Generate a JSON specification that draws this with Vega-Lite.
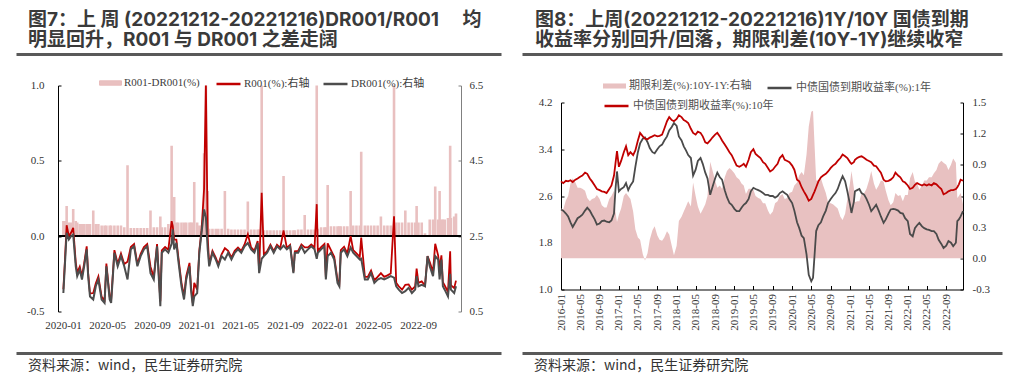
{
"$schema":"https://vega.github.io/schema/vega-lite/v6.json",
"padding":{"left":26,"top":11,"right":0,"bottom":0},
"autosize":{"type":"pad"},
"config":{"view":{"stroke":null},"font":"Liberation Serif"},
"columns":2,
"spacing":{"row":30.5,"column":100},
"bounds":"flush",
"resolve":{"scale":{"fill":"independent","stroke":"independent","color":"independent"}},
"concat":[
{"width":403,"height":1,"data":{"values":[{"k":0.5}]},"mark":{"type":"point","opacity":0,"size":0},
 "encoding":{"x":{"field":"k","type":"quantitative","scale":{"domain":[0,1],"range":[-42,443],"nice":false},"axis":{"orient":"top","domain":true,"domainColor":"#595959","domainWidth":3,"ticks":false,"labels":false,"grid":false,"title":null}}},
 "title":{"text":["图7：上 周 (20221212-20221216)DR001/R001　 均","明显回升，R001 与 DR001 之差走阔"],"anchor":"start","frame":"group","dx":-30,"font":"Inter, Noto Sans CJK SC","fontSize":19,"fontWeight":"bold","color":"#3a3a3a","lineHeight":20,"offset":4}},
{"width":402,"height":1,"data":{"values":[{"k":0.5}]},"mark":{"type":"point","opacity":0,"size":0},
 "encoding":{"x":{"field":"k","type":"quantitative","scale":{"domain":[0,1],"range":[-39,441],"nice":false},"axis":{"orient":"top","domain":true,"domainColor":"#595959","domainWidth":3,"ticks":false,"labels":false,"grid":false,"title":null}}},
 "title":{"text":["图8：上周(20221212-20221216)1Y/10Y  国债到期","收益率分别回升/回落，期限利差(10Y-1Y)继续收窄"],"anchor":"start","frame":"group","dx":-26,"font":"Inter, Noto Sans CJK SC","fontSize":19,"fontWeight":"bold","color":"#3a3a3a","lineHeight":20,"offset":4}},
{"width":403,"height":226,
 "data":{"values":[
{"d":"2020-01-02","dr":0.99,"s":0.10,"r":1.09},{"d":"2020-01-06","dr":1.70,"s":0.10,"r":1.80},{"d":"2020-01-11","dr":2.59,"s":0.20,"r":2.79},{"d":"2020-01-17","dr":2.41,"s":0.09,"r":2.50},{"d":"2020-01-23","dr":2.50,"s":0.09,"r":2.59},{"d":"2020-01-29","dr":2.54,"s":0.18,"r":2.72},{"d":"2020-02-05","dr":1.70,"s":0.10,"r":1.80},{"d":"2020-02-09","dr":1.44,"s":0.09,"r":1.53},{"d":"2020-02-16","dr":1.61,"s":0.08,"r":1.69},{"d":"2020-02-22","dr":1.35,"s":0.08,"r":1.43},{"d":"2020-02-28","dr":1.70,"s":0.08,"r":1.78},{"d":"2020-03-06","dr":2.15,"s":0.08,"r":2.23},{"d":"2020-03-10","dr":1.44,"s":0.08,"r":1.52},{"d":"2020-03-15","dr":0.90,"s":0.08,"r":0.98},{"d":"2020-03-24","dr":0.82,"s":0.17,"r":0.99},{"d":"2020-03-31","dr":1.17,"s":0.08,"r":1.25},{"d":"2020-04-07","dr":1.35,"s":0.08,"r":1.43},{"d":"2020-04-16","dr":0.82,"s":0.07,"r":0.89},{"d":"2020-04-24","dr":0.73,"s":0.07,"r":0.80},{"d":"2020-04-29","dr":1.70,"s":0.07,"r":1.77},{"d":"2020-05-08","dr":0.82,"s":0.07,"r":0.89},{"d":"2020-05-12","dr":0.73,"s":0.07,"r":0.80},{"d":"2020-05-21","dr":2.06,"s":0.07,"r":2.13},{"d":"2020-05-30","dr":1.70,"s":0.07,"r":1.77},{"d":"2020-06-08","dr":1.97,"s":0.07,"r":2.04},{"d":"2020-06-17","dr":1.70,"s":0.06,"r":1.76},{"d":"2020-06-26","dr":1.35,"s":0.47,"r":1.82},{"d":"2020-07-05","dr":2.15,"s":0.055,"r":2.21},{"d":"2020-07-14","dr":2.23,"s":0.055,"r":2.29},{"d":"2020-07-23","dr":1.70,"s":0.055,"r":1.76},{"d":"2020-08-01","dr":1.97,"s":0.055,"r":2.03},{"d":"2020-08-10","dr":2.15,"s":0.055,"r":2.21},{"d":"2020-08-19","dr":2.23,"s":0.055,"r":2.29},{"d":"2020-08-28","dr":1.52,"s":0.17,"r":1.69},{"d":"2020-09-06","dr":1.35,"s":0.06,"r":1.41},{"d":"2020-09-15","dr":2.23,"s":0.06,"r":2.29},{"d":"2020-09-24","dr":0.64,"s":0.13,"r":0.77},{"d":"2020-09-28","dr":2.06,"s":0.06,"r":2.12},{"d":"2020-10-07","dr":2.15,"s":0.06,"r":2.21},{"d":"2020-10-16","dr":2.06,"s":0.08,"r":2.14},{"d":"2020-10-25","dr":2.30,"s":0.60,"r":2.90},{"d":"2020-10-28","dr":2.68,"s":0.09,"r":2.77},{"d":"2020-11-01","dr":2.15,"s":0.26,"r":2.41},{"d":"2020-11-07","dr":2.32,"s":0.09,"r":2.41},{"d":"2020-11-12","dr":1.88,"s":0.09,"r":1.97},{"d":"2020-11-21","dr":1.17,"s":0.09,"r":1.26},{"d":"2020-11-28","dr":0.82,"s":0.09,"r":0.91},{"d":"2020-12-04","dr":1.35,"s":0.09,"r":1.44},{"d":"2020-12-13","dr":1.70,"s":0.09,"r":1.79},{"d":"2020-12-17","dr":1.08,"s":0.09,"r":1.17},{"d":"2020-12-22","dr":0.64,"s":0.09,"r":0.73},{"d":"2020-12-26","dr":0.90,"s":0.36,"r":1.26},{"d":"2021-01-03","dr":0.99,"s":0.09,"r":1.08},{"d":"2021-01-09","dr":2.06,"s":0.07,"r":2.13},{"d":"2021-01-15","dr":2.59,"s":0.07,"r":2.66},{"d":"2021-01-22","dr":3.21,"s":0.55,"r":3.76},{"d":"2021-01-27","dr":3.00,"s":3.50,"r":6.50},{"d":"2021-02-01","dr":2.15,"s":0.30,"r":2.45},{"d":"2021-02-05","dr":1.70,"s":0.05,"r":1.75},{"d":"2021-02-14","dr":2.06,"s":0.05,"r":2.11},{"d":"2021-02-23","dr":1.88,"s":0.05,"r":1.93},{"d":"2021-03-02","dr":1.70,"s":0.05,"r":1.75},{"d":"2021-03-11","dr":1.97,"s":0.05,"r":2.02},{"d":"2021-03-20","dr":1.88,"s":0.30,"r":2.18},{"d":"2021-03-29","dr":2.06,"s":0.05,"r":2.11},{"d":"2021-04-07","dr":1.88,"s":0.045,"r":1.93},{"d":"2021-04-16","dr":2.06,"s":0.045,"r":2.11},{"d":"2021-04-25","dr":2.15,"s":0.045,"r":2.20},{"d":"2021-05-04","dr":2.06,"s":0.045,"r":2.11},{"d":"2021-05-13","dr":2.23,"s":0.045,"r":2.28},{"d":"2021-05-22","dr":2.32,"s":0.23,"r":2.55},{"d":"2021-05-31","dr":2.15,"s":0.045,"r":2.20},{"d":"2021-06-09","dr":2.06,"s":0.045,"r":2.11},{"d":"2021-06-18","dr":2.32,"s":0.045,"r":2.37},{"d":"2021-06-22","dr":1.52,"s":0.045,"r":1.57},{"d":"2021-06-29","dr":1.90,"s":1.75,"r":3.65},{"d":"2021-07-05","dr":1.97,"s":0.04,"r":2.01},{"d":"2021-07-14","dr":2.06,"s":0.04,"r":2.10},{"d":"2021-07-23","dr":2.23,"s":0.04,"r":2.27},{"d":"2021-08-01","dr":2.06,"s":0.04,"r":2.10},{"d":"2021-08-10","dr":2.23,"s":0.04,"r":2.27},{"d":"2021-08-19","dr":2.15,"s":0.04,"r":2.19},{"d":"2021-08-28","dr":2.25,"s":0.40,"r":2.65},{"d":"2021-09-06","dr":2.15,"s":0.04,"r":2.19},{"d":"2021-09-15","dr":2.23,"s":0.04,"r":2.27},{"d":"2021-09-24","dr":1.52,"s":0.04,"r":1.56},{"d":"2021-09-28","dr":2.06,"s":0.04,"r":2.10},{"d":"2021-10-07","dr":2.06,"s":0.045,"r":2.11},{"d":"2021-10-16","dr":2.23,"s":0.045,"r":2.28},{"d":"2021-10-25","dr":2.06,"s":0.14,"r":2.20},{"d":"2021-11-03","dr":2.15,"s":0.045,"r":2.20},{"d":"2021-11-12","dr":2.23,"s":0.045,"r":2.28},{"d":"2021-11-21","dr":2.15,"s":0.045,"r":2.20},{"d":"2021-11-27","dr":1.90,"s":1.45,"r":3.35},{"d":"2021-11-30","dr":2.06,"s":0.05,"r":2.11},{"d":"2021-12-09","dr":2.15,"s":0.06,"r":2.21},{"d":"2021-12-18","dr":2.23,"s":0.06,"r":2.29},{"d":"2021-12-22","dr":1.35,"s":0.06,"r":1.41},{"d":"2021-12-27","dr":1.97,"s":0.34,"r":2.31},{"d":"2022-01-05","dr":2.06,"s":0.065,"r":2.13},{"d":"2022-01-14","dr":1.88,"s":0.065,"r":1.95},{"d":"2022-01-23","dr":1.26,"s":0.065,"r":1.33},{"d":"2022-01-28","dr":1.17,"s":0.065,"r":1.24},{"d":"2022-02-01","dr":2.06,"s":0.065,"r":2.13},{"d":"2022-02-10","dr":2.15,"s":0.065,"r":2.22},{"d":"2022-02-19","dr":1.97,"s":0.065,"r":2.04},{"d":"2022-02-28","dr":2.20,"s":0.30,"r":2.50},{"d":"2022-03-07","dr":2.06,"s":0.07,"r":2.13},{"d":"2022-03-16","dr":1.97,"s":0.07,"r":2.04},{"d":"2022-03-25","dr":1.88,"s":0.07,"r":1.95},{"d":"2022-03-29","dr":1.90,"s":0.56,"r":2.46},{"d":"2022-04-08","dr":1.35,"s":0.07,"r":1.42},{"d":"2022-04-16","dr":1.35,"s":0.07,"r":1.42},{"d":"2022-04-25","dr":1.52,"s":0.07,"r":1.59},{"d":"2022-05-04","dr":1.26,"s":0.07,"r":1.33},{"d":"2022-05-13","dr":1.35,"s":0.07,"r":1.42},{"d":"2022-05-22","dr":1.39,"s":0.13,"r":1.52},{"d":"2022-05-31","dr":1.35,"s":0.07,"r":1.42},{"d":"2022-06-09","dr":1.39,"s":0.07,"r":1.46},{"d":"2022-06-18","dr":1.44,"s":0.07,"r":1.51},{"d":"2022-06-27","dr":1.40,"s":1.63,"r":3.03},{"d":"2022-07-03","dr":1.17,"s":0.09,"r":1.26},{"d":"2022-07-10","dr":1.08,"s":0.09,"r":1.17},{"d":"2022-07-19","dr":0.99,"s":0.09,"r":1.08},{"d":"2022-07-28","dr":1.04,"s":0.17,"r":1.21},{"d":"2022-08-06","dr":1.13,"s":0.09,"r":1.22},{"d":"2022-08-15","dr":0.99,"s":0.09,"r":1.08},{"d":"2022-08-24","dr":1.08,"s":0.09,"r":1.17},{"d":"2022-08-28","dr":1.44,"s":0.20,"r":1.64},{"d":"2022-09-02","dr":1.17,"s":0.09,"r":1.26},{"d":"2022-09-11","dr":1.21,"s":0.09,"r":1.30},{"d":"2022-09-20","dr":1.17,"s":0.02,"r":1.19},{"d":"2022-09-27","dr":1.97,"s":0.00,"r":1.97},{"d":"2022-10-03","dr":1.70,"s":0.11,"r":1.81},{"d":"2022-10-12","dr":1.44,"s":0.11,"r":1.55},{"d":"2022-10-18","dr":1.97,"s":0.33,"r":2.30},{"d":"2022-10-26","dr":1.88,"s":0.11,"r":1.99},{"d":"2022-10-30","dr":1.35,"s":0.30,"r":1.65},{"d":"2022-11-04","dr":1.88,"s":0.11,"r":1.99},{"d":"2022-11-08","dr":1.17,"s":0.11,"r":1.28},{"d":"2022-11-13","dr":1.08,"s":0.11,"r":1.19},{"d":"2022-11-22","dr":0.90,"s":0.12,"r":1.02},{"d":"2022-11-28","dr":1.50,"s":0.60,"r":2.10},{"d":"2022-11-30","dr":1.08,"s":0.12,"r":1.20},{"d":"2022-12-09","dr":0.99,"s":0.13,"r":1.12},{"d":"2022-12-14","dr":1.17,"s":0.15,"r":1.32}
 ]},
 "layer":[
  {"layer":[
   {"mark":{"type":"bar","width":2.6,"clip":true},
    "encoding":{
     "x":{"field":"d","type":"temporal","scale":{"type":"utc","nice":false,"domain":[{"year":2020,"month":1,"date":1,"utc":true},{"year":2022,"month":12,"date":14,"utc":true}]},"axis":{"values":[{"year":2020,"month":1,"date":1,"utc":true},{"year":2020,"month":5,"date":1,"utc":true},{"year":2020,"month":9,"date":1,"utc":true},{"year":2021,"month":1,"date":1,"utc":true},{"year":2021,"month":5,"date":1,"utc":true},{"year":2021,"month":9,"date":1,"utc":true},{"year":2022,"month":1,"date":1,"utc":true},{"year":2022,"month":5,"date":1,"utc":true},{"year":2022,"month":9,"date":1,"utc":true}],"format":"%Y-%m","domain":false,"ticks":false,"grid":false,"labelPadding":8,"labelFont":"Liberation Serif","labelFontSize":11,"labelColor":"#333333","labelOverlap":false,"labelFlush":false,"title":null}},
     "y":{"field":"s","type":"quantitative","scale":{"domain":[-0.5,1.0],"nice":false},"axis":{"orient":"left","values":[-0.5,0,0.5,1.0],"format":".1f","labelExpr":"replace(datum.label,'−','-')","grid":false,"domainColor":"#000000","tickColor":"#000000","tickSize":-3,"labelPadding":17,"labelFont":"Liberation Serif","labelFontSize":11,"labelColor":"#333333","title":null}},
     "fill":{"datum":"R001-DR001(%)","scale":{"range":["#e9c0c0"]},"legend":{"orient":"none","legendX":41,"legendY":-14,"title":null,"symbolType":"M-1,-0.2H1V0.2H-1Z","symbolSize":484,"symbolFillColor":"#a6a6a6","symbolStrokeColor":"#e8bcbc","symbolStrokeWidth":1,"labelFont":"Liberation Serif","labelFontSize":11,"labelColor":"#404040","labelOffset":2,"padding":0}}}},
   {"mark":{"type":"rule","color":"#000000","strokeWidth":1},"encoding":{"y":{"datum":0}}}
  ]},
  {"layer":[
   {"mark":{"type":"line","strokeWidth":1.8},
    "encoding":{
     "x":{"field":"d","type":"temporal","scale":{"type":"utc","nice":false,"domain":[{"year":2020,"month":1,"date":1,"utc":true},{"year":2022,"month":12,"date":14,"utc":true}]},"axis":{"values":[{"year":2020,"month":1,"date":1,"utc":true},{"year":2020,"month":5,"date":1,"utc":true},{"year":2020,"month":9,"date":1,"utc":true},{"year":2021,"month":1,"date":1,"utc":true},{"year":2021,"month":5,"date":1,"utc":true},{"year":2021,"month":9,"date":1,"utc":true},{"year":2022,"month":1,"date":1,"utc":true},{"year":2022,"month":5,"date":1,"utc":true},{"year":2022,"month":9,"date":1,"utc":true}],"format":"%Y-%m","domain":false,"ticks":false,"grid":false,"labelPadding":8,"labelFont":"Liberation Serif","labelFontSize":11,"labelColor":"#333333","labelOverlap":false,"labelFlush":false,"title":null}},
     "y":{"field":"r","type":"quantitative","scale":{"domain":[0.5,6.5],"nice":false},"axis":{"orient":"right","values":[0.5,1.5,2.5,3.5,4.5,5.5,6.5],"format":".1f","grid":false,"domainColor":"#808080","tickColor":"#808080","tickSize":-3,"labelPadding":11,"labelFont":"Liberation Serif","labelFontSize":11,"labelColor":"#333333","title":null}},
     "stroke":{"datum":"R001(%):右轴","scale":{"range":["#c00000"]},"legend":{"orient":"none","legendX":157,"legendY":-15,"title":null,"symbolType":"stroke","symbolSize":576,"symbolStrokeWidth":2.5,"labelFont":"Liberation Serif, Noto Sans CJK SC","labelFontSize":11,"labelColor":"#404040","labelOffset":2,"padding":0}}}},
   {"mark":{"type":"line","strokeWidth":2},
    "encoding":{
     "x":{"field":"d","type":"temporal","scale":{"type":"utc","nice":false,"domain":[{"year":2020,"month":1,"date":1,"utc":true},{"year":2022,"month":12,"date":14,"utc":true}]},"axis":{"values":[{"year":2020,"month":1,"date":1,"utc":true},{"year":2020,"month":5,"date":1,"utc":true},{"year":2020,"month":9,"date":1,"utc":true},{"year":2021,"month":1,"date":1,"utc":true},{"year":2021,"month":5,"date":1,"utc":true},{"year":2021,"month":9,"date":1,"utc":true},{"year":2022,"month":1,"date":1,"utc":true},{"year":2022,"month":5,"date":1,"utc":true},{"year":2022,"month":9,"date":1,"utc":true}],"format":"%Y-%m","domain":false,"ticks":false,"grid":false,"labelPadding":8,"labelFont":"Liberation Serif","labelFontSize":11,"labelColor":"#333333","labelOverlap":false,"labelFlush":false,"title":null}},
     "y":{"field":"dr","type":"quantitative"},
     "color":{"datum":"DR001(%):右轴","scale":{"range":["#4d4d4d"]},"legend":{"orient":"none","legendX":264,"legendY":-15,"title":null,"symbolType":"stroke","symbolSize":576,"symbolStrokeWidth":2.5,"labelFont":"Liberation Serif, Noto Sans CJK SC","labelFontSize":11,"labelColor":"#404040","labelOffset":2,"padding":0}}}}
  ]}
 ],
 "resolve":{"scale":{"y":"independent"}}
},
{"width":402,"height":204,
 "data":{"values":[
{"d":"2016-01-01","y1":2.37,"y10":2.85,"s":0.48},{"d":"2016-01-15","y1":2.35,"y10":2.82,"s":0.47},{"d":"2016-02-01","y1":2.30,"y10":2.86,"s":0.56},{"d":"2016-02-15","y1":2.25,"y10":2.85,"s":0.60},{"d":"2016-03-01","y1":2.15,"y10":2.87,"s":0.72},{"d":"2016-03-15","y1":2.07,"y10":2.84,"s":0.77},{"d":"2016-04-01","y1":2.15,"y10":2.88,"s":0.73},{"d":"2016-04-15","y1":2.22,"y10":2.90,"s":0.68},{"d":"2016-05-01","y1":2.25,"y10":2.93,"s":0.68},{"d":"2016-05-15","y1":2.28,"y10":2.95,"s":0.67},{"d":"2016-06-01","y1":2.35,"y10":3.00,"s":0.65},{"d":"2016-06-15","y1":2.40,"y10":2.98,"s":0.58},{"d":"2016-07-01","y1":2.35,"y10":2.90,"s":0.55},{"d":"2016-07-15","y1":2.28,"y10":2.85,"s":0.57},{"d":"2016-08-01","y1":2.20,"y10":2.78,"s":0.58},{"d":"2016-08-15","y1":2.11,"y10":2.72,"s":0.61},{"d":"2016-09-01","y1":2.13,"y10":2.70,"s":0.57},{"d":"2016-09-15","y1":2.17,"y10":2.68,"s":0.51},{"d":"2016-10-01","y1":2.18,"y10":2.67,"s":0.49},{"d":"2016-10-15","y1":2.16,"y10":2.65,"s":0.49},{"d":"2016-11-01","y1":2.15,"y10":2.72,"s":0.57},{"d":"2016-11-15","y1":2.18,"y10":2.78,"s":0.60},{"d":"2016-12-01","y1":2.30,"y10":2.95,"s":0.65},{"d":"2016-12-10","y1":2.70,"y10":3.15,"s":0.45},{"d":"2016-12-20","y1":3.02,"y10":3.37,"s":0.35},
{"d":"2017-01-01","y1":2.68,"y10":3.10,"s":0.42},{"d":"2017-01-15","y1":2.72,"y10":3.20,"s":0.48},{"d":"2017-02-01","y1":2.75,"y10":3.35,"s":0.60},{"d":"2017-02-15","y1":2.82,"y10":3.45,"s":0.63},{"d":"2017-03-01","y1":2.70,"y10":3.30,"s":0.60},{"d":"2017-03-15","y1":2.78,"y10":3.35,"s":0.57},{"d":"2017-04-01","y1":2.85,"y10":3.30,"s":0.45},{"d":"2017-04-15","y1":3.10,"y10":3.38,"s":0.28},{"d":"2017-05-01","y1":3.35,"y10":3.55,"s":0.20},{"d":"2017-05-15","y1":3.50,"y10":3.68,"s":0.18},{"d":"2017-06-01","y1":3.58,"y10":3.62,"s":0.04},{"d":"2017-06-15","y1":3.60,"y10":3.58,"s":-0.02},{"d":"2017-07-01","y1":3.52,"y10":3.57,"s":0.05},{"d":"2017-07-15","y1":3.42,"y10":3.60,"s":0.18},{"d":"2017-08-01","y1":3.35,"y10":3.62,"s":0.27},{"d":"2017-08-15","y1":3.33,"y10":3.64,"s":0.31},{"d":"2017-09-01","y1":3.40,"y10":3.62,"s":0.22},{"d":"2017-09-15","y1":3.45,"y10":3.63,"s":0.18},{"d":"2017-10-01","y1":3.48,"y10":3.65,"s":0.17},{"d":"2017-10-15","y1":3.55,"y10":3.75,"s":0.20},{"d":"2017-11-01","y1":3.62,"y10":3.88,"s":0.26},{"d":"2017-11-15","y1":3.72,"y10":3.95,"s":0.23},{"d":"2017-12-01","y1":3.78,"y10":3.90,"s":0.12},{"d":"2017-12-15","y1":3.85,"y10":3.88,"s":0.03},
{"d":"2018-01-01","y1":3.80,"y10":3.92,"s":0.12},{"d":"2018-01-15","y1":3.62,"y10":3.98,"s":0.36},{"d":"2018-02-01","y1":3.55,"y10":3.95,"s":0.40},{"d":"2018-02-15","y1":3.45,"y10":3.90,"s":0.45},{"d":"2018-03-01","y1":3.38,"y10":3.88,"s":0.50},{"d":"2018-03-15","y1":3.30,"y10":3.85,"s":0.55},{"d":"2018-04-01","y1":3.25,"y10":3.75,"s":0.50},{"d":"2018-04-15","y1":2.95,"y10":3.68,"s":0.73},{"d":"2018-05-01","y1":3.05,"y10":3.65,"s":0.60},{"d":"2018-05-15","y1":3.20,"y10":3.70,"s":0.50},{"d":"2018-06-01","y1":3.25,"y10":3.68,"s":0.43},{"d":"2018-06-15","y1":3.15,"y10":3.62,"s":0.47},{"d":"2018-07-01","y1":3.00,"y10":3.52,"s":0.52},{"d":"2018-07-15","y1":2.90,"y10":3.50,"s":0.60},{"d":"2018-08-01","y1":2.62,"y10":3.55,"s":0.93},{"d":"2018-08-15","y1":2.75,"y10":3.60,"s":0.85},{"d":"2018-09-01","y1":2.90,"y10":3.65,"s":0.75},{"d":"2018-09-15","y1":3.00,"y10":3.68,"s":0.68},{"d":"2018-10-01","y1":2.92,"y10":3.62,"s":0.70},{"d":"2018-10-15","y1":2.88,"y10":3.55,"s":0.67},{"d":"2018-11-01","y1":2.70,"y10":3.48,"s":0.78},{"d":"2018-11-15","y1":2.58,"y10":3.42,"s":0.84},{"d":"2018-12-01","y1":2.48,"y10":3.35,"s":0.87},{"d":"2018-12-15","y1":2.45,"y10":3.30,"s":0.85},
{"d":"2019-01-01","y1":2.38,"y10":3.20,"s":0.82},{"d":"2019-01-15","y1":2.34,"y10":3.12,"s":0.78},{"d":"2019-02-01","y1":2.34,"y10":3.10,"s":0.76},{"d":"2019-02-15","y1":2.40,"y10":3.12,"s":0.72},{"d":"2019-03-01","y1":2.45,"y10":3.15,"s":0.70},{"d":"2019-03-15","y1":2.48,"y10":3.10,"s":0.62},{"d":"2019-04-01","y1":2.55,"y10":3.22,"s":0.67},{"d":"2019-04-15","y1":2.68,"y10":3.35,"s":0.67},{"d":"2019-05-01","y1":2.74,"y10":3.40,"s":0.66},{"d":"2019-05-15","y1":2.72,"y10":3.32,"s":0.60},{"d":"2019-06-01","y1":2.70,"y10":3.28,"s":0.58},{"d":"2019-06-15","y1":2.68,"y10":3.25,"s":0.57},{"d":"2019-07-01","y1":2.65,"y10":3.18,"s":0.53},{"d":"2019-07-15","y1":2.62,"y10":3.15,"s":0.53},{"d":"2019-08-01","y1":2.62,"y10":3.08,"s":0.46},{"d":"2019-08-15","y1":2.60,"y10":3.02,"s":0.42},{"d":"2019-09-01","y1":2.60,"y10":3.05,"s":0.45},{"d":"2019-09-15","y1":2.57,"y10":3.10,"s":0.53},{"d":"2019-10-01","y1":2.60,"y10":3.15,"s":0.55},{"d":"2019-10-15","y1":2.65,"y10":3.25,"s":0.60},{"d":"2019-11-01","y1":2.68,"y10":3.30,"s":0.62},{"d":"2019-11-15","y1":2.65,"y10":3.22,"s":0.57},{"d":"2019-12-01","y1":2.62,"y10":3.20,"s":0.58},{"d":"2019-12-15","y1":2.55,"y10":3.18,"s":0.63},
{"d":"2020-01-01","y1":2.48,"y10":3.12,"s":0.64},{"d":"2020-01-15","y1":2.35,"y10":3.05,"s":0.70},{"d":"2020-02-01","y1":2.15,"y10":2.88,"s":0.73},{"d":"2020-02-15","y1":2.05,"y10":2.85,"s":0.80},{"d":"2020-03-01","y1":1.92,"y10":2.75,"s":0.83},{"d":"2020-03-15","y1":1.88,"y10":2.68,"s":0.80},{"d":"2020-04-01","y1":1.60,"y10":2.60,"s":1.00},{"d":"2020-04-15","y1":1.25,"y10":2.52,"s":1.27},{"d":"2020-05-01","y1":1.14,"y10":2.55,"s":1.41},{"d":"2020-05-12","y1":1.20,"y10":2.62,"s":1.42},{"d":"2020-05-22","y1":1.60,"y10":2.68,"s":1.08},{"d":"2020-06-01","y1":2.00,"y10":2.75,"s":0.75},{"d":"2020-06-15","y1":2.10,"y10":2.85,"s":0.75},{"d":"2020-07-01","y1":2.15,"y10":2.92,"s":0.77},{"d":"2020-07-15","y1":2.25,"y10":2.95,"s":0.70},{"d":"2020-08-01","y1":2.35,"y10":2.98,"s":0.63},{"d":"2020-08-15","y1":2.48,"y10":3.02,"s":0.54},{"d":"2020-09-01","y1":2.55,"y10":3.08,"s":0.53},{"d":"2020-09-15","y1":2.60,"y10":3.12,"s":0.52},{"d":"2020-10-01","y1":2.65,"y10":3.15,"s":0.50},{"d":"2020-10-15","y1":2.72,"y10":3.20,"s":0.48},{"d":"2020-11-01","y1":2.85,"y10":3.25,"s":0.40},{"d":"2020-11-15","y1":2.94,"y10":3.31,"s":0.37},{"d":"2020-12-01","y1":2.85,"y10":3.28,"s":0.43},{"d":"2020-12-15","y1":2.68,"y10":3.25,"s":0.57},
{"d":"2021-01-01","y1":2.45,"y10":3.18,"s":0.73},{"d":"2021-01-10","y1":2.31,"y10":3.15,"s":0.84},{"d":"2021-01-25","y1":2.50,"y10":3.18,"s":0.68},{"d":"2021-02-01","y1":2.68,"y10":3.22,"s":0.54},{"d":"2021-02-15","y1":2.70,"y10":3.25,"s":0.55},{"d":"2021-03-01","y1":2.72,"y10":3.27,"s":0.55},{"d":"2021-03-15","y1":2.65,"y10":3.28,"s":0.63},{"d":"2021-04-01","y1":2.62,"y10":3.25,"s":0.63},{"d":"2021-04-15","y1":2.55,"y10":3.22,"s":0.67},{"d":"2021-05-01","y1":2.45,"y10":3.20,"s":0.75},{"d":"2021-05-15","y1":2.34,"y10":3.18,"s":0.84},{"d":"2021-06-01","y1":2.40,"y10":3.12,"s":0.72},{"d":"2021-06-15","y1":2.45,"y10":3.11,"s":0.66},{"d":"2021-07-01","y1":2.35,"y10":3.05,"s":0.70},{"d":"2021-07-15","y1":2.25,"y10":3.00,"s":0.75},{"d":"2021-08-01","y1":2.14,"y10":2.88,"s":0.74},{"d":"2021-08-15","y1":2.20,"y10":2.85,"s":0.65},{"d":"2021-09-01","y1":2.30,"y10":2.86,"s":0.56},{"d":"2021-09-15","y1":2.37,"y10":2.88,"s":0.51},{"d":"2021-10-01","y1":2.38,"y10":2.92,"s":0.54},{"d":"2021-10-15","y1":2.37,"y10":3.00,"s":0.63},{"d":"2021-11-01","y1":2.35,"y10":2.95,"s":0.60},{"d":"2021-11-15","y1":2.31,"y10":2.92,"s":0.61},{"d":"2021-12-01","y1":2.30,"y10":2.85,"s":0.55},{"d":"2021-12-15","y1":2.22,"y10":2.83,"s":0.61},
{"d":"2022-01-01","y1":2.17,"y10":2.78,"s":0.61},{"d":"2022-01-15","y1":1.95,"y10":2.72,"s":0.77},{"d":"2022-02-01","y1":1.91,"y10":2.74,"s":0.83},{"d":"2022-02-15","y1":2.05,"y10":2.79,"s":0.74},{"d":"2022-03-01","y1":2.10,"y10":2.82,"s":0.72},{"d":"2022-03-15","y1":2.14,"y10":2.80,"s":0.66},{"d":"2022-04-01","y1":2.08,"y10":2.78,"s":0.70},{"d":"2022-04-15","y1":2.05,"y10":2.80,"s":0.75},{"d":"2022-05-01","y1":2.03,"y10":2.78,"s":0.75},{"d":"2022-05-15","y1":2.02,"y10":2.80,"s":0.78},{"d":"2022-06-01","y1":2.00,"y10":2.78,"s":0.78},{"d":"2022-06-15","y1":2.00,"y10":2.82,"s":0.82},{"d":"2022-07-01","y1":1.95,"y10":2.80,"s":0.85},{"d":"2022-07-15","y1":1.85,"y10":2.76,"s":0.91},{"d":"2022-08-01","y1":1.78,"y10":2.72,"s":0.94},{"d":"2022-08-15","y1":1.71,"y10":2.63,"s":0.92},{"d":"2022-09-01","y1":1.75,"y10":2.65,"s":0.90},{"d":"2022-09-15","y1":1.83,"y10":2.68,"s":0.85},{"d":"2022-10-01","y1":1.80,"y10":2.70,"s":0.90},{"d":"2022-10-15","y1":1.74,"y10":2.70,"s":0.96},{"d":"2022-11-01","y1":1.80,"y10":2.72,"s":0.92},{"d":"2022-11-10","y1":2.17,"y10":2.75,"s":0.58},{"d":"2022-11-20","y1":2.20,"y10":2.80,"s":0.60},{"d":"2022-12-01","y1":2.25,"y10":2.88,"s":0.63},{"d":"2022-12-16","y1":2.34,"y10":2.86,"s":0.52}
 ]},
 "layer":[
  {"mark":{"type":"area","interpolate":"linear"},
   "encoding":{
    "x":{"field":"d","type":"temporal","scale":{"type":"utc","nice":false,"domain":[{"year":2016,"month":1,"date":1,"utc":true},{"year":2022,"month":12,"date":16,"utc":true}]},"axis":{"values":[{"year":2016,"month":1,"date":1,"utc":true},{"year":2016,"month":5,"date":1,"utc":true},{"year":2016,"month":9,"date":1,"utc":true},{"year":2017,"month":1,"date":1,"utc":true},{"year":2017,"month":5,"date":1,"utc":true},{"year":2017,"month":9,"date":1,"utc":true},{"year":2018,"month":1,"date":1,"utc":true},{"year":2018,"month":5,"date":1,"utc":true},{"year":2018,"month":9,"date":1,"utc":true},{"year":2019,"month":1,"date":1,"utc":true},{"year":2019,"month":5,"date":1,"utc":true},{"year":2019,"month":9,"date":1,"utc":true},{"year":2020,"month":1,"date":1,"utc":true},{"year":2020,"month":5,"date":1,"utc":true},{"year":2020,"month":9,"date":1,"utc":true},{"year":2021,"month":1,"date":1,"utc":true},{"year":2021,"month":5,"date":1,"utc":true},{"year":2021,"month":9,"date":1,"utc":true},{"year":2022,"month":1,"date":1,"utc":true},{"year":2022,"month":5,"date":1,"utc":true},{"year":2022,"month":9,"date":1,"utc":true}],"format":"%Y-%m","labelAngle":-90,"domainColor":"#000000","tickColor":"#000000","tickSize":-4,"labelPadding":8,"grid":false,"labelFont":"Liberation Serif","labelFontSize":11,"labelColor":"#333333","labelOverlap":false,"labelFlush":false,"title":null}},
    "y":{"field":"s","type":"quantitative","scale":{"domain":[-0.3,1.5],"nice":false,"range":[204,17]},"axis":{"orient":"right","values":[-0.3,0,0.3,0.6,0.9,1.2,1.5],"format":".1f","labelExpr":"replace(datum.label,'−','-')","grid":false,"domainColor":"#000000","tickColor":"#000000","tickSize":-3,"labelPadding":12,"labelFont":"Liberation Serif","labelFontSize":11,"labelColor":"#333333","title":null}},
    "y2":{"datum":0},
    "fill":{"datum":"期限利差(%):10Y-1Y:右轴","scale":{"range":["#e8c1c1"]},"legend":{"orient":"none","legendX":42,"legendY":-11,"title":null,"symbolType":"M-1,-0.22H1V0.22H-1Z","symbolSize":529,"symbolStrokeWidth":0,"labelFont":"Liberation Serif, Noto Sans CJK SC","labelFontSize":11,"labelColor":"#505050","labelOffset":3,"padding":0}}}},
  {"layer":[
   {"mark":{"type":"line","strokeWidth":1.8},
    "encoding":{
     "x":{"field":"d","type":"temporal","scale":{"type":"utc","nice":false,"domain":[{"year":2016,"month":1,"date":1,"utc":true},{"year":2022,"month":12,"date":16,"utc":true}]},"axis":{"values":[{"year":2016,"month":1,"date":1,"utc":true},{"year":2016,"month":5,"date":1,"utc":true},{"year":2016,"month":9,"date":1,"utc":true},{"year":2017,"month":1,"date":1,"utc":true},{"year":2017,"month":5,"date":1,"utc":true},{"year":2017,"month":9,"date":1,"utc":true},{"year":2018,"month":1,"date":1,"utc":true},{"year":2018,"month":5,"date":1,"utc":true},{"year":2018,"month":9,"date":1,"utc":true},{"year":2019,"month":1,"date":1,"utc":true},{"year":2019,"month":5,"date":1,"utc":true},{"year":2019,"month":9,"date":1,"utc":true},{"year":2020,"month":1,"date":1,"utc":true},{"year":2020,"month":5,"date":1,"utc":true},{"year":2020,"month":9,"date":1,"utc":true},{"year":2021,"month":1,"date":1,"utc":true},{"year":2021,"month":5,"date":1,"utc":true},{"year":2021,"month":9,"date":1,"utc":true},{"year":2022,"month":1,"date":1,"utc":true},{"year":2022,"month":5,"date":1,"utc":true},{"year":2022,"month":9,"date":1,"utc":true}],"format":"%Y-%m","labelAngle":-90,"domainColor":"#000000","tickColor":"#000000","tickSize":-4,"labelPadding":8,"grid":false,"labelFont":"Liberation Serif","labelFontSize":11,"labelColor":"#333333","labelOverlap":false,"labelFlush":false,"title":null}},
     "y":{"field":"y1","type":"quantitative","scale":{"domain":[1.0,4.2],"nice":false,"range":[204,17]},"axis":{"orient":"left","values":[1.0,1.8,2.6,3.4,4.2],"format":".1f","grid":false,"domainColor":"#000000","tickColor":"#000000","tickSize":-3,"labelPadding":12,"labelFont":"Liberation Serif","labelFontSize":11,"labelColor":"#333333","title":null}},
     "stroke":{"datum":"中债国债到期收益率(%):1年","scale":{"range":["#4a4a4a"]},"legend":{"orient":"none","legendX":205,"legendY":-11,"title":null,"symbolType":"stroke","symbolSize":576,"symbolStrokeWidth":2.5,"labelFont":"Liberation Serif, Noto Sans CJK SC","labelFontSize":11,"labelColor":"#505050","labelOffset":3,"padding":0}}}},
   {"mark":{"type":"line","strokeWidth":1.8},
    "encoding":{
     "x":{"field":"d","type":"temporal","scale":{"type":"utc","nice":false,"domain":[{"year":2016,"month":1,"date":1,"utc":true},{"year":2022,"month":12,"date":16,"utc":true}]},"axis":{"values":[{"year":2016,"month":1,"date":1,"utc":true},{"year":2016,"month":5,"date":1,"utc":true},{"year":2016,"month":9,"date":1,"utc":true},{"year":2017,"month":1,"date":1,"utc":true},{"year":2017,"month":5,"date":1,"utc":true},{"year":2017,"month":9,"date":1,"utc":true},{"year":2018,"month":1,"date":1,"utc":true},{"year":2018,"month":5,"date":1,"utc":true},{"year":2018,"month":9,"date":1,"utc":true},{"year":2019,"month":1,"date":1,"utc":true},{"year":2019,"month":5,"date":1,"utc":true},{"year":2019,"month":9,"date":1,"utc":true},{"year":2020,"month":1,"date":1,"utc":true},{"year":2020,"month":5,"date":1,"utc":true},{"year":2020,"month":9,"date":1,"utc":true},{"year":2021,"month":1,"date":1,"utc":true},{"year":2021,"month":5,"date":1,"utc":true},{"year":2021,"month":9,"date":1,"utc":true},{"year":2022,"month":1,"date":1,"utc":true},{"year":2022,"month":5,"date":1,"utc":true},{"year":2022,"month":9,"date":1,"utc":true}],"format":"%Y-%m","labelAngle":-90,"domainColor":"#000000","tickColor":"#000000","tickSize":-4,"labelPadding":8,"grid":false,"labelFont":"Liberation Serif","labelFontSize":11,"labelColor":"#333333","labelOverlap":false,"labelFlush":false,"title":null}},
     "y":{"field":"y10","type":"quantitative"},
     "color":{"datum":"中债国债到期收益率(%):10年","scale":{"range":["#c00000"]},"legend":{"orient":"none","legendX":42,"legendY":7,"title":null,"symbolType":"stroke","symbolSize":576,"symbolStrokeWidth":2.5,"labelFont":"Liberation Serif, Noto Sans CJK SC","labelFontSize":11,"labelColor":"#505050","labelOffset":3,"padding":0}}}}
  ]}
 ],
 "resolve":{"scale":{"y":"independent"}}
},
{"width":403,"height":11,"data":{"values":[{"k":0.5}]},"mark":{"type":"point","opacity":0,"size":0},
 "encoding":{"x":{"field":"k","type":"quantitative","scale":{"domain":[0,1],"range":[-42,443],"nice":false},"axis":{"orient":"bottom","domain":true,"domainColor":"#595959","domainWidth":3,"ticks":false,"labels":false,"grid":false,"title":null}}},
 "title":{"text":"资料来源：wind，民生证券研究院","orient":"bottom","anchor":"start","frame":"group","dx":-30,"font":"Noto Sans CJK SC","fontSize":14,"fontWeight":"normal","color":"#333333","offset":6}},
{"width":402,"height":11,"data":{"values":[{"k":0.5}]},"mark":{"type":"point","opacity":0,"size":0},
 "encoding":{"x":{"field":"k","type":"quantitative","scale":{"domain":[0,1],"range":[-39,441],"nice":false},"axis":{"orient":"bottom","domain":true,"domainColor":"#595959","domainWidth":3,"ticks":false,"labels":false,"grid":false,"title":null}}},
 "title":{"text":"资料来源：wind，民生证券研究院","orient":"bottom","anchor":"start","frame":"group","dx":-27,"font":"Noto Sans CJK SC","fontSize":14,"fontWeight":"normal","color":"#333333","offset":6}}
]
}
